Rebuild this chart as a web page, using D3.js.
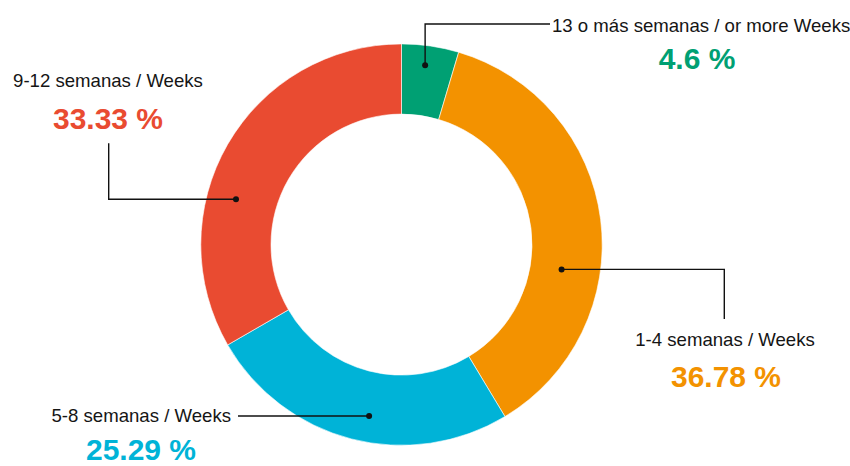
<!DOCTYPE html>
<html><head><meta charset="utf-8">
<script src="https://cdn.jsdelivr.net/npm/d3@7"></script>
<style>
html,body{margin:0;padding:0;background:#fff;}
svg{display:block;}
text{font-family:"Liberation Sans",Arial,sans-serif;}
</style></head>
<body>
<svg id="chart" width="850" height="466"></svg>
<script>
// Data (clockwise from top)
const categories = ["13 o más semanas / or more Weeks", "1-4 semanas / Weeks", "5-8 semanas / Weeks", "9-12 semanas / Weeks"];
const values = [4.6, 36.78, 25.29, 33.33];
const valueLabels = ["4.6 %", "36.78 %", "25.29 %", "33.33 %"];
const colors = ["#00a073", "#f39200", "#00b3d7", "#e94b31"];

// Annotation layout (dot angle in degrees clockwise from top, dot radius, elbow path, text placement)
const annotations = [
  {dotAngle: 7.5,   dotR: 181, path: "up-right",   elbow: [null, 24], end: [550, 24], labelX: 552, labelY: 32.3, anchor: "start", pctX: 697, pctY: 69},
  {dotAngle: 98.8,  dotR: 162, path: "right-down", elbow: [724.3, null], end: [724.3, 319], labelX: 725, labelY: 345.7, anchor: "middle", pctX: 726, pctY: 387.3},
  {dotAngle: 190.7, dotR: 174.5, path: "left",     elbow: null, end: [238, null], labelX: 231, labelY: 421.7, anchor: "end", pctX: 141, pctY: 459.5},
  {dotAngle: 285.3, dotR: 171.6, path: "left-up",  elbow: [108.7, null], end: [108.7, 143.3], labelX: 108, labelY: 87.3, anchor: "middle", pctX: 108, pctY: 129}
];

const svg = d3.select("#chart");
const cx = 401.5, cy = 244.6, outerR = 200.7, innerR = 130.5;
const g = svg.append("g").attr("transform", `translate(${cx},${cy})`);

const pie = d3.pie().sort(null).value(d => d);
const arcs = pie(values);
const arc = d3.arc().innerRadius(innerR).outerRadius(outerR);

g.selectAll("path.slice").data(arcs).enter().append("path")
  .attr("class","slice")
  .attr("d", arc)
  .attr("fill", (d,i) => colors[i])
  .attr("stroke", "#fff").attr("stroke-width", 0.6);

// annotations
annotations.forEach((a, i) => {
  const ang = a.dotAngle * Math.PI / 180;
  const dx = cx + a.dotR * Math.sin(ang);
  const dy = cy - a.dotR * Math.cos(ang);
  let pts = [[dx, dy]];
  if (a.path === "up-right") { pts.push([dx, a.elbow[1]]); pts.push(a.end); }
  else if (a.path === "right-down") { pts.push([a.elbow[0], dy]); pts.push(a.end); }
  else if (a.path === "left") { pts.push([a.end[0], dy]); }
  else if (a.path === "left-up") { pts.push([a.elbow[0], dy]); pts.push(a.end); }
  svg.append("path")
    .attr("d", d3.line()(pts))
    .attr("fill","none").attr("stroke","#111").attr("stroke-width",1.4);
  svg.append("circle").attr("cx", dx).attr("cy", dy).attr("r", 3).attr("fill","#111");
  svg.append("text")
    .attr("x", a.labelX).attr("y", a.labelY)
    .attr("text-anchor", a.anchor)
    .attr("font-size", 18.6).attr("fill","#151515")
    .text(categories[i]);
  svg.append("text")
    .attr("x", a.pctX).attr("y", a.pctY)
    .attr("text-anchor", "middle")
    .attr("font-size", 30).attr("font-weight","bold")
    .attr("fill", colors[i])
    .attr("xml:space","preserve")
    .text(valueLabels[i]);
});
</script>
</body></html>
